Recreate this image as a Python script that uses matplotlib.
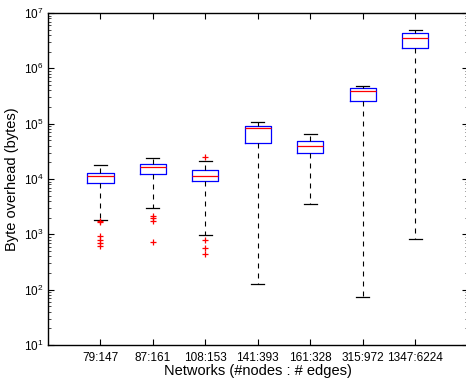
import matplotlib
matplotlib.use("Agg")
import matplotlib.pyplot as plt
from matplotlib.ticker import LogLocator, NullFormatter

# dati (byte overhead per rete)
networks = ["79:147", "87:161", "108:153", "141:393", "161:328", "315:972", "1347:6224"]
whisker_low = [1.8e3, 3.0e3, 9.6e2, 1.26e2, 3.5e3, 74, 8.3e2]
q1 = [8.5e3, 1.24e4, 9.1e3, 4.4e4, 2.95e4, 2.6e5, 2.3e6]
median = [1.15e4, 1.63e4, 1.15e4, 8.2e4, 3.9e4, 3.9e5, 3.5e6]
q3 = [1.27e4, 1.87e4, 1.45e4, 8.9e4, 4.8e4, 4.5e5, 4.3e6]
whisker_high = [1.8e4, 2.4e4, 2.15e4, 1.05e5, 6.6e4, 4.8e5, 5.0e6]
outliers = [
    [1.75e3, 1.65e3, 9.5e2, 8.0e2, 7.0e2, 6.2e2],
    [2.15e3, 2.0e3, 1.75e3, 7.3e2],
    [2.5e4, 7.9e2, 5.75e2, 4.4e2],
    [],
    [],
    [],
    [],
]
y_ticks = [1e1, 1e2, 1e3, 1e4, 1e5, 1e6, 1e7]

stats = []
for i, name in enumerate(networks):
    stats.append({
        "label": name,
        "whislo": whisker_low[i],
        "q1": q1[i],
        "med": median[i],
        "q3": q3[i],
        "whishi": whisker_high[i],
        "fliers": outliers[i],
    })

plt.rcParams["font.family"] = ["Liberation Sans", "DejaVu Sans"]

fig = plt.figure(figsize=(4.66, 3.79), dpi=100)
ax = fig.add_axes([48 / 466, 1 - 345 / 379, 419.5 / 466, 332 / 379])

ax.bxp(stats, positions=range(1, len(networks) + 1), widths=0.5,
       boxprops=dict(color="blue", linewidth=0.9),
       medianprops=dict(color="red", linewidth=0.9),
       whiskerprops=dict(color="black", linewidth=0.8, linestyle=(0, (4.5, 4.5))),
       capprops=dict(color="black", linewidth=0.9),
       capwidths=0.25,
       flierprops=dict(marker="+", markeredgecolor="red", markersize=5,
                       markeredgewidth=0.9, linestyle="none"))

ax.set_yscale("log")
ax.set_yticks(y_ticks)
ax.yaxis.set_minor_locator(LogLocator(base=10, subs=range(2, 10), numticks=20))
ax.yaxis.set_minor_formatter(NullFormatter())
ax.set_ylim(10, 1e7)
ax.set_xlim(0, 8)

ax.tick_params(which="both", direction="in", top=True, right=True)
ax.tick_params(axis="x", labelsize=8.5, pad=5)
ax.tick_params(axis="y", labelsize=8.5)
ax.tick_params(which="major", length=4, width=0.8)
ax.tick_params(which="minor", length=2, width=0.5)
for s in ax.spines.values():
    s.set_linewidth(1.0)

ax.set_ylabel("Byte overhead (bytes)", fontsize=10.5, labelpad=3)
ax.set_xlabel("Networks (#nodes : # edges)", fontsize=10.5, labelpad=0)

plt.savefig("out.png", dpi=100)
